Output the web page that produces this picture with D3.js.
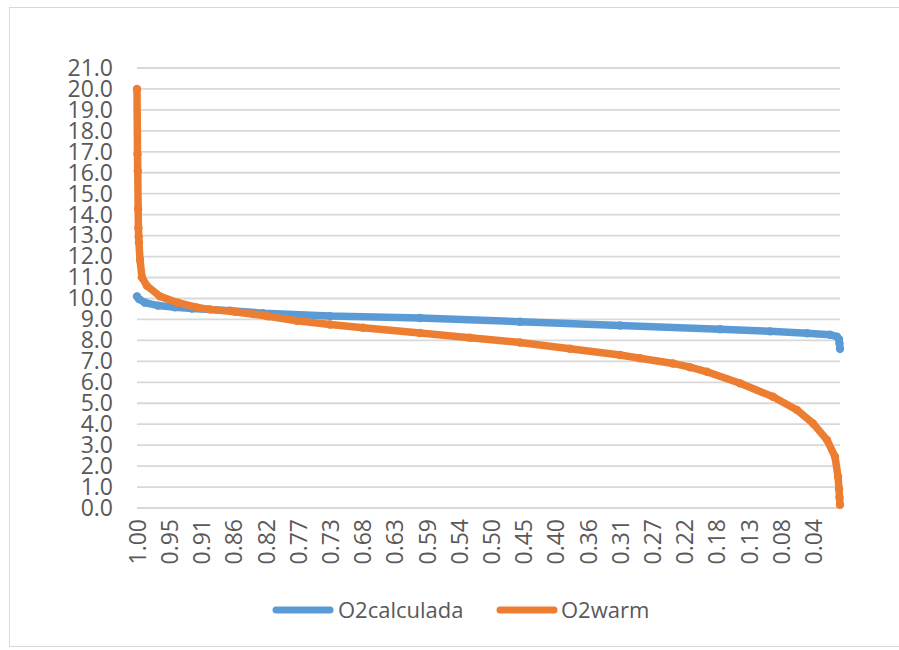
<!DOCTYPE html>
<html><head><meta charset="utf-8">
<script src="https://cdn.jsdelivr.net/npm/d3@7"></script>
<style>
body{margin:0;background:#fff}
svg{display:block}
text{font-family:"Open Sans",sans-serif;fill:#595959}
</style>
</head><body>
<svg id="chart" width="899" height="650"></svg>
<script>
// ---- data ----
const seriesNames = ["O2calculada", "O2warm"];
const seriesColors = ["#5b9bd5", "#ed7d31"];

// exceedance position (1 -> 0) and values
const o2calculadaP = [1.0, 0.9972, 0.9886, 0.9701, 0.9459, 0.9218, 0.8677, 0.8208, 0.7255, 0.5974, 0.4552, 0.3129, 0.1707, 0.0996, 0.0469, 0.0142, 0.0043, 0.0014, 0.0007, 0.0];
const o2calculadaV = [10.1, 9.97, 9.8, 9.66, 9.58, 9.52, 9.42, 9.3, 9.16, 9.07, 8.89, 8.71, 8.53, 8.43, 8.34, 8.27, 8.18, 8.05, 7.85, 7.6];

const o2warmP = [1.0, 0.9993, 0.9989, 0.9984, 0.998, 0.9976, 0.9972, 0.9957, 0.9929, 0.9858, 0.9673, 0.9417, 0.9147, 0.8962, 0.8606, 0.8137, 0.7724, 0.7255, 0.6785, 0.5974, 0.5263, 0.4552, 0.3841, 0.3129, 0.2845, 0.2376, 0.2134, 0.1892, 0.1422, 0.0953, 0.0612, 0.0384, 0.0185, 0.0071, 0.0028, 0.0014, 0.0007, 0.0];
const o2warmV = [20.0, 16.88, 16.09, 14.27, 13.35, 12.95, 12.66, 11.84, 11.0, 10.6, 10.1, 9.8, 9.57, 9.48, 9.37, 9.15, 8.93, 8.76, 8.6, 8.35, 8.13, 7.9, 7.6, 7.3, 7.15, 6.9, 6.72, 6.5, 5.95, 5.31, 4.68, 4.04, 3.25, 2.45, 1.49, 0.9, 0.5, 0.15];

const xTickLabels = ["1.00","0.95","0.91","0.86","0.82","0.77","0.73","0.68","0.63","0.59","0.54","0.50","0.45","0.40","0.36","0.31","0.27","0.22","0.18","0.13","0.08","0.04"];
const xTickStep = 0.0458;
const yTicks = [0,1,2,3,4,5,6,7,8,9,10,11,12,13,14,15,16,17,18,19,20,21];

// ---- layout ----
const svg = d3.select("#chart");
const plotL = 137, plotR = 840, plotT = 68, plotB = 508;

// chart frame
svg.append("rect")
  .attr("x", 9.5).attr("y", 7.5)
  .attr("width", 899).attr("height", 639)
  .attr("fill", "#fff").attr("stroke", "#d9d9d9").attr("stroke-width", 1);

const x = d3.scaleLinear().domain([1, 0]).range([plotL, plotR]);
const y = d3.scaleLinear().domain([0, 21]).range([plotB, plotT]);

// y labels
const yAxis = svg.append("g")
  .attr("transform", `translate(${plotL},0)`)
  .call(d3.axisLeft(y).tickValues(yTicks).tickFormat(d3.format(".1f")).tickSize(0).tickPadding(24));
yAxis.select(".domain").remove();
yAxis.selectAll("text").style("font-size", "23px").attr("fill", "#595959");

// gridlines
svg.append("g").selectAll("line").data(yTicks).join("line")
  .attr("x1", plotL).attr("x2", plotR)
  .attr("y1", d => y(d)).attr("y2", d => y(d))
  .attr("stroke", "#d9d9d9").attr("stroke-width", 1.8);

// x axis
const xTickValues = xTickLabels.map((_, i) => 1 - i * xTickStep);
const xAxis = svg.append("g")
  .attr("transform", `translate(0,${plotB})`)
  .call(d3.axisBottom(x).tickValues(xTickValues).tickFormat((d, i) => xTickLabels[i]).tickSize(0));
xAxis.select(".domain").remove();
xAxis.selectAll("text")
  .style("font-size", "23px").attr("fill", "#595959")
  .attr("text-anchor", "end")
  .attr("transform", "rotate(-90)")
  .attr("x", -11).attr("y", 0).attr("dy", "0.36em");

// series
const series = [
  { name: seriesNames[0], color: seriesColors[0], data: o2calculadaP.map((p, i) => ({ p, v: o2calculadaV[i] })) },
  { name: seriesNames[1], color: seriesColors[1], data: o2warmP.map((p, i) => ({ p, v: o2warmV[i] })) }
];
const line = d3.line().x(d => x(d.p)).y(d => y(d.v)).curve(d3.curveMonotoneX);

series.forEach(s => {
  const g = svg.append("g");
  g.append("path").datum(s.data)
    .attr("d", d3.line().x(d => x(d.p)).y(d => y(d.v)))
    .attr("fill", "none").attr("stroke", s.color)
    .attr("stroke-width", 7.5).attr("stroke-linejoin", "round").attr("stroke-linecap", "round");
  g.selectAll("circle").data(s.data).join("circle")
    .attr("cx", d => x(d.p)).attr("cy", d => y(d.v)).attr("r", 4.2)
    .attr("fill", s.color);
});

// legend
const legendY = 610;
const legendItems = [{ x0: 273, tx: 338 }, { x0: 497, tx: 561 }];
series.forEach((s, i) => {
  const it = legendItems[i];
  svg.append("line")
    .attr("x1", it.x0 + 3).attr("x2", it.x0 + 57)
    .attr("y1", legendY).attr("y2", legendY)
    .attr("stroke", s.color).attr("stroke-width", 7).attr("stroke-linecap", "round");
  svg.append("text")
    .attr("x", it.tx).attr("y", legendY).attr("dy", "0.35em")
    .style("font-size", "22px").attr("fill", "#595959")
    .text(s.name);
});
</script>
</body></html>
